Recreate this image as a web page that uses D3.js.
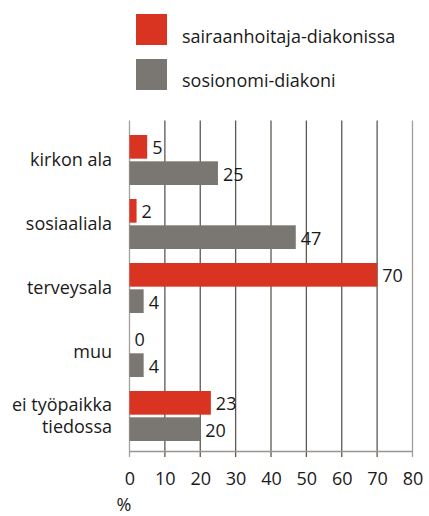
<!DOCTYPE html>
<meta charset="utf-8">
<script src="https://d3js.org/d3.v7.min.js"></script>
<style>
  body { margin: 0; background: #fff; }
  text { font-family: "Open Sans", "Noto Sans", sans-serif; fill: #1a1a1a; }
</style>
<div id="my_dataviz"></div>
<script>

// data
var categories = ["kirkon ala", "sosiaaliala", "terveysala", "muu", "ei työpaikka\ntiedossa"];
var series = ["sairaanhoitaja-diakonissa", "sosionomi-diakoni"];
var nurse = [5, 2, 70, 0, 23];
var social = [25, 47, 4, 4, 20];
var ticks = [0, 10, 20, 30, 40, 50, 60, 70, 80];
var colors = ["#d93322", "#7a7672"];

var W = 429, H = 516;
var fs = "18px";

var svg = d3.select("#my_dataviz")
  .append("svg")
    .attr("width", W)
    .attr("height", H);

// scales
var x = d3.scaleLinear()
  .domain([0, 80])
  .range([129.5, 412.5]);

var y = d3.scaleBand()
  .domain(categories)
  .range([128, 448])
  .paddingInner(0)
  .paddingOuter(0);

var sub = d3.scaleBand()
  .domain(series)
  .range([7, 57])
  .paddingInner(0.1);

// gridlines
svg.append("g")
  .selectAll("line")
  .data(ticks)
  .enter()
  .append("line")
    .attr("x1", function(d){ return x(d) })
    .attr("x2", function(d){ return x(d) })
    .attr("y1", 120.5)
    .attr("y2", 457)
    .attr("stroke", function(d){ return (d == 0 || d == 80) ? "#a39f9b" : "#5e5852" })
    .attr("stroke-width", 1.3);

// x axis
var axis = svg.append("g")
  .attr("transform", "translate(0,451)")
  .call(d3.axisBottom(x).tickValues(ticks).tickSize(0).tickPadding(21));
axis.select(".domain").attr("stroke", "#9a9590").attr("stroke-width", 1.3);
axis.selectAll("text")
  .style("font-size", fs)
  .style("font-family", "'Open Sans', sans-serif")
  .attr("fill", "#1a1a1a");

svg.append("text")
  .attr("x", 124)
  .attr("y", 511)
  .attr("text-anchor", "middle")
  .style("font-size", fs)
  .text("%");

// bars
var rows = categories.map(function(c, i){
  return [{cat: c, key: series[0], v: nurse[i]}, {cat: c, key: series[1], v: social[i]}];
});

var groups = svg.append("g")
  .selectAll("g")
  .data(rows)
  .enter()
  .append("g")
    .attr("transform", function(d){ return "translate(0," + y(d[0].cat) + ")" });

groups.selectAll("rect")
  .data(function(d){ return d })
  .enter()
  .append("rect")
    .attr("x", x(0))
    .attr("y", function(d){ return sub(d.key) })
    .attr("width", function(d){ return x(d.v) - x(0) })
    .attr("height", sub.bandwidth())
    .attr("fill", function(d, i){ return colors[i] });

groups.selectAll("text.val")
  .data(function(d){ return d })
  .enter()
  .append("text")
    .attr("class", "val")
    .attr("x", function(d){ return x(d.v) + 5 })
    .attr("y", function(d){ return sub(d.key) + sub.bandwidth() / 2 })
    .attr("dy", "0.42em")
    .style("font-size", fs)
    .text(function(d){ return d.v });

// category labels
groups.append("text")
  .attr("x", 112)
  .attr("y", 32)
  .attr("text-anchor", "end")
  .style("font-size", fs)
  .each(function(d){
    var lines = d[0].cat.split("\n");
    var t = d3.select(this);
    lines.forEach(function(l, i){
      t.append("tspan")
        .attr("x", 112)
        .attr("dy", i == 0 ? (lines.length > 1 ? "-0.3em" : "0.35em") : "1.25em")
        .text(l);
    });
  });

// legend
var legend = svg.append("g");
legend.selectAll("rect")
  .data(series)
  .enter()
  .append("rect")
    .attr("x", 136)
    .attr("y", function(d, i){ return 14 + i * 45 })
    .attr("width", 31)
    .attr("height", 31)
    .attr("fill", function(d, i){ return colors[i] });

legend.selectAll("text")
  .data(series)
  .enter()
  .append("text")
    .attr("x", 182)
    .attr("y", function(d, i){ return 43 + i * 44 })
    .style("font-size", fs)
    .text(function(d){ return d });

</script>
